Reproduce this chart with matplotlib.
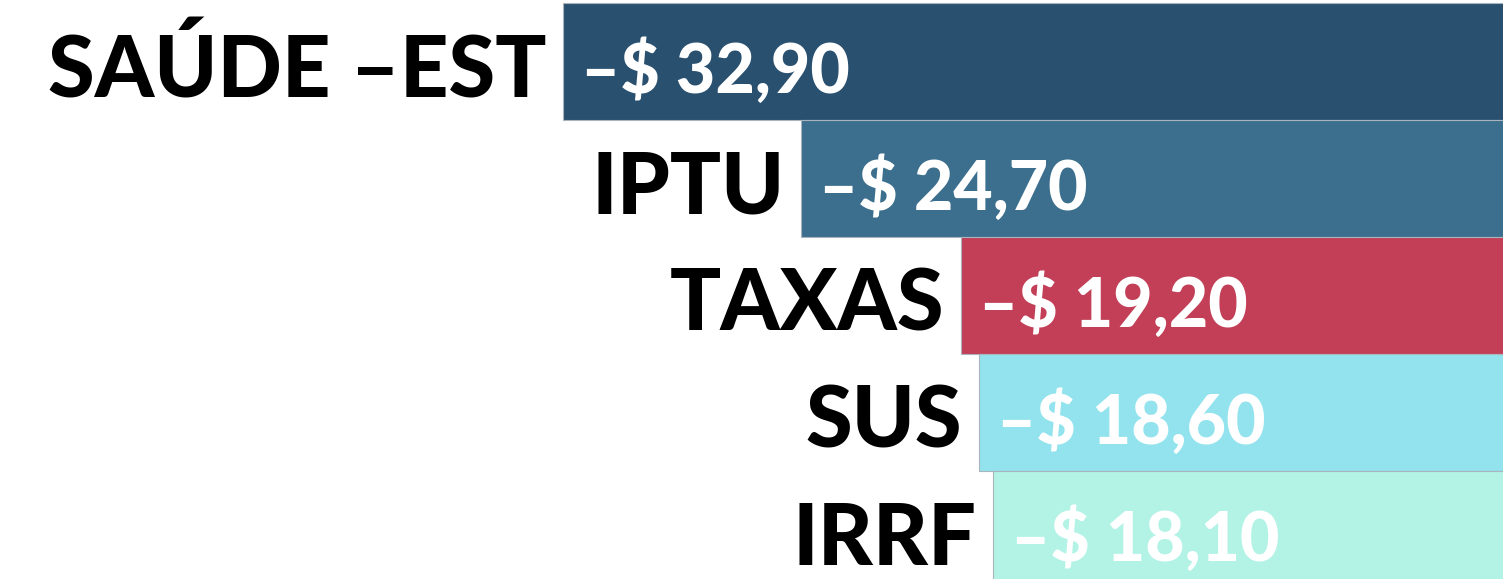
import matplotlib
matplotlib.use("Agg")
import matplotlib.pyplot as plt

categories = ["SAÚDE –EST", "IPTU", "TAXAS", "SUS", "IRRF"]
values = [32.90, 24.70, 19.20, 18.60, 18.10]
colors = ["#29506f", "#3b6f8d", "#c23f57", "#92e3ee", "#b2f3e6"]

plt.rcParams['font.family'] = ['Lato', 'DejaVu Sans']

fig = plt.figure(figsize=(15.03, 5.79), dpi=100)
ax = fig.add_axes([0, 0, 1, 1])

ypos = list(range(len(categories)))
lefts = [-v for v in values]
ax.barh(ypos, values, left=lefts, height=1.0, color=colors,
        edgecolor="#a9b4bd", linewidth=0.8)

for y, v, name in zip(ypos, values, categories):
    ax.annotate(name, xy=(-v, y), xytext=(-12, -2), textcoords="offset points",
                ha="right", va="center_baseline", fontsize=61,
                fontweight="black", color="black")
    txt = "–$ " + f"{v:.2f}".replace(".", ",")
    ax.annotate(txt, xy=(-v, y), xytext=(13, -3), textcoords="offset points",
                ha="left", va="center_baseline", fontsize=49,
                fontweight="black", color="white")

ax.set_xlim(-52.28, -0.55)
ax.set_ylim(4.42, -0.526)
ax.axis("off")

fig.savefig("out.png", dpi=100)
